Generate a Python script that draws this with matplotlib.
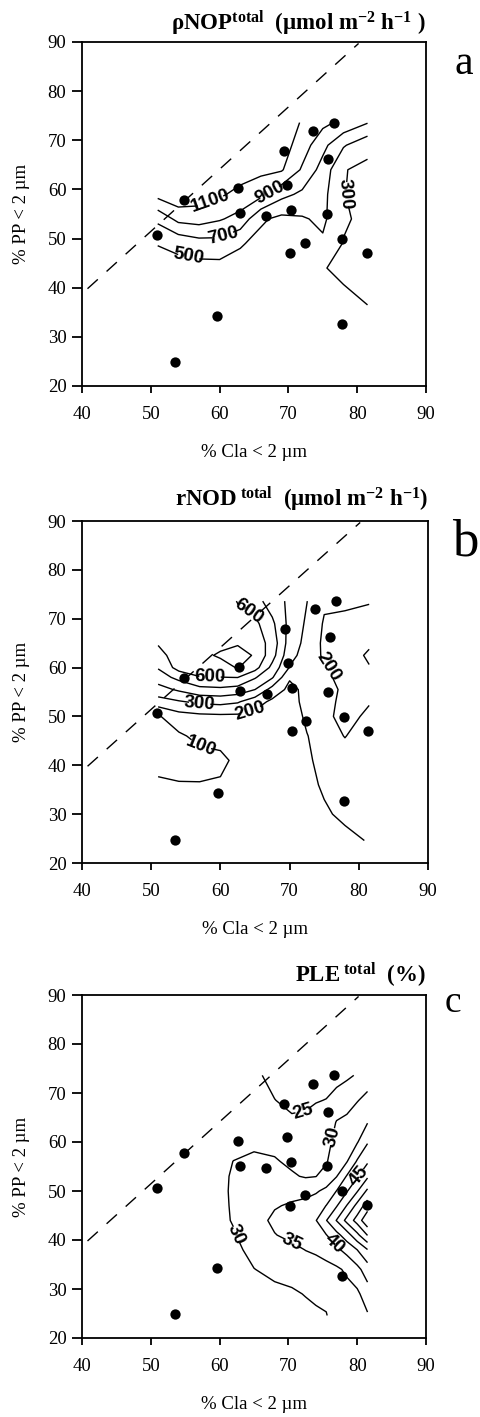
import numpy as np
import matplotlib
matplotlib.use("Agg")
import matplotlib.pyplot as plt

plt.rcParams['font.family'] = ['Liberation Serif', 'DejaVu Serif']
plt.rcParams['mathtext.fontset'] = 'custom'
plt.rcParams['mathtext.rm'] = 'Liberation Serif'
plt.rcParams['mathtext.bf'] = 'Liberation Serif:bold'
plt.rcParams['mathtext.it'] = 'Liberation Serif:italic'

# ---- sampling sites: % clay < 2 um vs % PP < 2 um ----
cla = [54.8, 62.7, 62.9, 69.4, 69.8, 66.7, 70.4, 73.6, 76.7, 75.8,
       75.6, 50.9, 70.3, 72.4, 77.8, 81.4, 59.6, 53.5, 77.8]
pp = [57.8, 60.2, 55.2, 67.8, 61.0, 54.6, 55.9, 71.9, 73.6, 66.2,
      55.1, 50.7, 47.0, 49.1, 49.9, 47.1, 34.3, 24.8, 32.6]

# reference line
diag_x = [40.8, 80.2]
diag_y = [39.8, 89.7]

# ---- gridded surfaces (one list per grid column, values bottom -> top) ----
nop_x = [51, 54, 57, 60, 63, 66, 69, 72, 75, 78, 81.5]
nop_y = [24.6, 29, 34, 39, 44, 49, 54, 59, 64, 69, 73.6]
nop_z = [
    [420, 430, 440, 445, 450, 505, 748, 1170, 1250, 1280, 1290],
    [410, 420, 430, 440, 440, 550, 960, 1250, 1260, 1280, 1290],
    [400, 410, 420, 430, 430, 619, 987, 1200, 1240, 1270, 1290],
    [390, 400, 415, 425, 430, 632, 920, 1130, 1220, 1260, 1280],
    [380, 390, 400, 410, 420, 520, 832, 1040, 1200, 1250, 1280],
    [370, 380, 390, 400, 410, 440, 530, 957, 1150, 1220, 1260],
    [360, 370, 380, 390, 410, 440, 450, 760, 1121, 1200, 1240],
    [350, 355, 360, 370, 390, 440, 480, 660, 874, 1000, 1080],
    [340, 340, 340, 350, 305, 470, 540, 560, 620, 760, 950],
    [330, 320, 310, 310, 280, 290, 330, 305, 310, 520, 850],
    [340, 330, 315, 285, 250, 240, 240, 250, 255, 360, 710],
]
nop_levels = [300, 500, 700, 900, 1100]

nod_x = [51, 54, 57, 60, 62.5, 65, 67.5, 70, 72.5, 75, 78, 81.5]
nod_y = [24.6, 30, 36, 41, 46, 50, 53, 55.5, 58, 60, 62.5, 65, 69, 73.6]
nod_z = [
    [150, 140, 110, 80, 75, 90, 258, 362, 450, 508, 558, 610, 650, 660],
    [150, 140, 105, 70, 85, 160, 290, 415, 530, 640, 660, 670, 670, 670],
    [150, 140, 105, 65, 125, 175, 320, 470, 595, 650, 680, 680, 670, 665],
    [150, 140, 110, 80, 130, 180, 330, 480, 598, 670, 710, 680, 660, 660],
    [150, 145, 130, 120, 140, 180, 310, 460, 602, 705, 740, 690, 640, 595],
    [160, 155, 145, 140, 160, 170, 240, 400, 510, 640, 690, 660, 625, 540],
    [165, 160, 155, 150, 160, 175, 180, 260, 410, 470, 540, 560, 520, 450],
    [170, 170, 165, 160, 165, 170, 175, 175, 210, 295, 330, 355, 370, 380],
    [170, 175, 180, 190, 198, 210, 220, 225, 235, 245, 260, 270, 285, 302],
    [180, 190, 210, 220, 225, 220, 225, 230, 220, 210, 185, 180, 190, 215],
    [180, 215, 230, 225, 198, 175, 180, 185, 170, 160, 150, 160, 180, 215],
    [205, 235, 240, 240, 230, 215, 195, 170, 130, 105, 85, 115, 170, 205],
]
nod_levels = [100, 200, 300, 400, 500, 600, 700]

ple_x = [51, 55, 59, 62, 65, 68, 70.5, 72.5, 74, 75.5, 77, 78.5, 80, 81.5]
ple_y = [24.6, 29, 34, 38, 41, 44, 47, 50, 53, 56, 60, 64, 68.5, 73.6]
ple_z = [
    [26.0, 26.3, 26.6, 27.0, 27.3, 27.5, 27.6, 27.6, 27.5, 27.4, 27.2, 27.0, 26.8, 26.6],
    [26.2, 26.5, 26.9, 27.3, 27.8, 28.0, 28.1, 28.1, 28.0, 27.8, 27.6, 27.4, 27.2, 27.0],
    [26.5, 26.8, 27.2, 27.8, 28.1, 28.3, 28.5, 28.5, 28.5, 28.3, 28.1, 27.8, 27.5, 27.2],
    [26.5, 27.0, 27.8, 28.7, 29.6, 30.3, 30.4, 30.5, 30.4, 30.05, 29.0, 28.3, 27.8, 27.3],
    [27.0, 28.0, 29.9, 31.5, 32.5, 33.0, 32.8, 32.3, 31.6, 30.8, 29.2, 28.3, 27.3, 26.0],
    [27.5, 28.8, 31.2, 33.4, 34.8, 36.0, 34.6, 33.2, 31.7, 30.4, 28.8, 27.2, 25.1, 23.5],
    [27.8, 29.4, 31.7, 33.8, 36.2, 37.0, 35.6, 33.4, 30.5, 29.2, 27.9, 25.8, 23.8, 22.5],
    [28.8, 30.2, 32.5, 35.1, 36.2, 37.5, 36.2, 33.8, 29.6, 28.5, 27.3, 25.9, 24.2, 22.5],
    [29.3, 30.8, 33.3, 35.6, 37.4, 39.8, 37.3, 34.5, 29.9, 29.0, 27.8, 26.4, 24.8, 23.0],
    [29.8, 31.0, 33.5, 36.9, 39.8, 44.8, 40.1, 36.0, 32.1, 29.5, 28.1, 26.7, 25.1, 23.5],
    [32.0, 33.0, 34.2, 39.0, 43.4, 50.2, 44.6, 40.1, 34.8, 33.5, 31.9, 30.3, 26.6, 23.5],
    [32.0, 33.3, 35.8, 41.6, 47.6, 56.5, 50.2, 44.6, 40.4, 34.8, 33.0, 31.1, 28.1, 24.2],
    [33.2, 34.0, 38.6, 45.0, 53.7, 62.0, 56.5, 49.6, 44.5, 40.6, 34.6, 32.3, 29.8, 25.4],
    [34.5, 37.7, 42.5, 49.8, 60.2, 69.0, 62.5, 56.0, 49.2, 44.4, 39.6, 34.8, 31.1, 28.0],
]
ple_levels = [25, 30, 35, 40, 45, 50, 55, 60, 65]

titles = [
    r"ρNOP$^{\mathbf{total}}$  (µmol m$^{\mathbf{-2}}$ h$^{\mathbf{-1}}$ )",
    r"rNOD$^{\mathbf{\ total}}$  (µmol m$^{\mathbf{-2}}$ h$^{\mathbf{-1}}$)",
    r"PLE$^{\mathbf{\ total}}$  (%)",
]
letters = ["a", "b", "c"]

# ---- layout (pixel boxes: left, top, right, bottom) ----
W, H = 481, 1417
boxes = [(82, 42, 426, 386), (82, 521, 428, 863), (82, 995, 426, 1338)]
title_dy = [0.035, 0.044, 0.038]
letter_pos = [(1.084, 0.907), (1.069, 0.90), (1.055, 0.95)]
letter_size = [30, 38, 27]
label_spots = [
    [(58.8, 57.0), (67.5, 58.8), (60.5, 50.4), (55.6, 47.1), (78.2, 59.0)],
    [(63.5, 70.1), (58.5, 58.2), (57.0, 52.6), (64.3, 51.3), (57.2, 44.5), (75.7, 60.3)],
    [(72.1, 66.3), (76.4, 61.1), (80.2, 53.1), (62.3, 41.0), (70.6, 39.5), (76.6, 39.2)],
]

fig = plt.figure(figsize=(W / 100, H / 100), dpi=100)

surfaces = [(nop_x, nop_y, nop_z, nop_levels),
            (nod_x, nod_y, nod_z, nod_levels),
            (ple_x, ple_y, ple_z, ple_levels)]

for i, (gx, gy, gz, lev) in enumerate(surfaces):
    l, t, r, b = boxes[i]
    ax = fig.add_axes([l / W, 1 - b / H, (r - l) / W, (b - t) / H])
    Z = np.array(gz, dtype=float).T
    cs = ax.contour(gx, gy, Z, levels=lev, colors='black', linewidths=1.0)
    with plt.rc_context({'font.family': ['Liberation Sans'], 'font.weight': 'bold'}):
        ax.clabel(cs, fmt='%d', fontsize=13.5, inline=True, inline_spacing=2,
                  manual=label_spots[i])
    ax.plot(diag_x, diag_y, color='black', lw=1.0, dashes=(10, 8.5))
    ax.scatter(cla, pp, s=55, color='black', zorder=5, linewidths=0)

    ax.set_xlim(40, 90)
    ax.set_ylim(20, 90)
    ax.set_xticks(range(40, 91, 10))
    ax.set_yticks(range(20, 91, 10))
    for sp in ax.spines.values():
        sp.set_linewidth(1.3)
    ax.tick_params(width=1.3, labelsize=13.5, top=False, right=False, direction='out')
    ax.tick_params(axis='x', length=5, pad=9.5)
    ax.tick_params(axis='y', length=7.2, pad=4.0)
    ax.set_xlabel("% Cla < 2 µm", fontsize=13.5)
    ax.set_ylabel("% PP < 2 µm", fontsize=13.5)
    ax.xaxis.set_label_coords(0.5, -0.17)
    ax.yaxis.set_label_coords(-0.15, 0.5)

    ax.text(1.0, 1 + title_dy[i], titles[i], transform=ax.transAxes,
            ha='right', va='baseline', fontsize=16.5, fontweight='bold')
    ax.text(letter_pos[i][0], letter_pos[i][1], letters[i], transform=ax.transAxes,
            ha='left', va='baseline', fontsize=letter_size[i])

fig.savefig("out.png", dpi=100)
